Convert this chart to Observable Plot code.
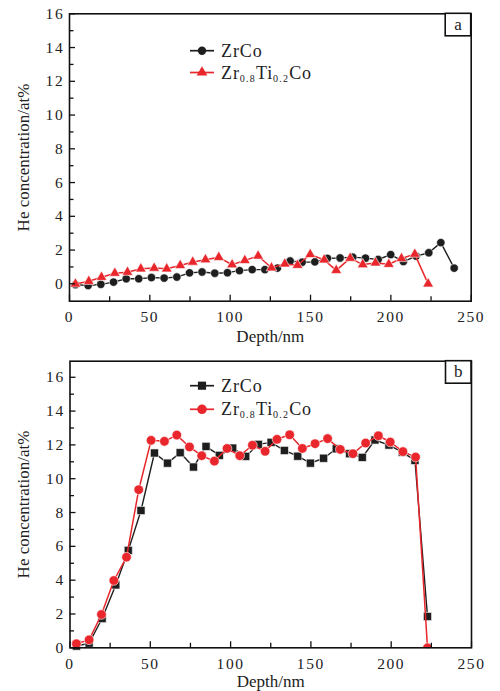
<!DOCTYPE html>
<html>
<head>
<meta charset="utf-8">
<script src="https://cdn.jsdelivr.net/npm/d3@7"></script>
<script src="https://cdn.jsdelivr.net/npm/@observablehq/plot@0.6"></script>
<style>
  html, body { margin: 0; padding: 0; background: #fff; }
  #chart { width: 500px; height: 691px; overflow: hidden; }
  #chart svg { display: block; font-family: "Liberation Serif", serif; }
  #chart svg text { font-family: "Liberation Serif", serif; }
  g[aria-label="x-axis tick label"] text { letter-spacing: 1.6px; }
  g[aria-label="y-axis tick label"] text { letter-spacing: 1.7px; }
  g[aria-label="x-title"] text { letter-spacing: 1.5px; }
  g[aria-label="y-title"] text { letter-spacing: 1.6px; }
</style>
</head>
<body>
<div id="chart"></div>
<script>
// ---------- data ----------
const seriesNames = ["ZrCo", "Zr0.8Ti0.2Co"];
const panelTags = ["a", "b"];
const xTitle = "Depth/nm";
const yTitle = "He concentration/at%";
const xMajor = [0, 50, 100, 150, 200, 250];
const xMinor = [25, 75, 125, 175, 225];
const yMajor = [0, 2, 4, 6, 8, 10, 12, 14, 16];
const yMinor = [1, 3, 5, 7, 9, 11, 13, 15];

// panel a
const aDepthZrCo = [3.7, 11.6, 19.5, 27.4, 35.3, 43.1, 51.0, 58.9, 66.8, 74.7, 82.5, 90.4, 98.3, 105.8, 113.7, 121.6, 129.4, 137.3, 144.8, 152.7, 160.5, 168.4, 176.3, 184.2, 192.1, 199.9, 207.8, 215.7, 223.6, 231.1, 239.4];
const aHeZrCo = [-0.05, -0.1, -0.03, 0.1, 0.3, 0.3, 0.37, 0.34, 0.4, 0.65, 0.7, 0.63, 0.66, 0.78, 0.84, 0.84, 0.93, 1.35, 1.28, 1.3, 1.51, 1.53, 1.58, 1.52, 1.44, 1.73, 1.32, 1.64, 1.84, 2.44, 0.93];
const aDepthZrTi = [3.7, 12.0, 19.9, 28.2, 36.1, 44.4, 52.7, 60.5, 68.9, 76.7, 84.6, 92.9, 101.2, 109.1, 117.4, 125.7, 134.0, 141.9, 149.8, 158.5, 166.0, 174.7, 182.5, 190.4, 198.7, 206.6, 214.9, 223.2];
const aHeZrTi = [-0.01, 0.15, 0.39, 0.63, 0.69, 0.89, 0.93, 0.89, 1.09, 1.29, 1.43, 1.57, 1.13, 1.39, 1.65, 0.95, 1.18, 1.1, 1.74, 1.42, 0.8, 1.52, 1.14, 1.24, 1.16, 1.5, 1.76, 0];

// panel b
const bDepthZrCo = [4.0, 11.9, 20.0, 28.5, 36.3, 44.2, 52.6, 60.7, 68.6, 76.9, 84.7, 93.0, 101.3, 109.4, 117.3, 125.2, 133.5, 141.8, 149.7, 157.9, 165.8, 174.1, 182.0, 189.9, 198.6, 206.9, 214.8, 222.6];
const bHeZrCo = [0.1, 0.27, 1.73, 3.72, 5.76, 8.12, 11.52, 10.92, 11.54, 10.69, 11.91, 11.38, 11.81, 11.32, 12.03, 12.15, 11.67, 11.33, 10.92, 11.21, 11.77, 11.48, 11.26, 12.29, 11.99, 11.57, 11.08, 1.85];
const bDepthZrTi = [4.0, 11.9, 19.6, 27.3, 35.2, 42.8, 50.5, 58.8, 66.5, 74.4, 82.0, 89.9, 97.8, 105.7, 113.6, 121.5, 128.9, 136.8, 144.7, 152.6, 160.4, 168.3, 176.2, 184.1, 192.0, 199.4, 207.3, 215.2, 222.6];
const bHeZrTi = [0.24, 0.47, 1.97, 3.98, 5.36, 9.35, 12.27, 12.21, 12.58, 11.88, 11.36, 11.04, 11.79, 11.36, 11.98, 11.62, 12.33, 12.6, 11.79, 12.07, 12.37, 11.73, 11.48, 12.11, 12.54, 12.17, 11.6, 11.28, 0];

// ---------- drawing ----------
const BLACK = "#1e1e1e";
const RED = "#e8262b";

function rows(xs, ys) { return xs.map((x, i) => ({depth: x, he: ys[i]})); }

function makePanel(cfg) {
  const W = 500;
  const fw = W - cfg.ml - cfg.mr;
  const fh = cfg.height - cfg.mt - cfg.mb;
  const r1 = rows(cfg.x1, cfg.y1);
  const r2 = rows(cfg.x2, cfg.y2);
  const svg = Plot.plot({
    width: W,
    height: cfg.height,
    marginTop: cfg.mt,
    marginBottom: cfg.mb,
    marginLeft: cfg.ml,
    marginRight: cfg.mr,
    x: {domain: [0, 250]},
    y: {domain: cfg.yDomain},
    style: {background: "white", color: "#111", overflow: "visible"},
    marks: [
      Plot.line(r1, {x: "depth", y: "he", stroke: BLACK, strokeWidth: 1.4}),
      Plot.dot(r1, {x: "depth", y: "he", symbol: cfg.sym1, r: cfg.rad1, fill: BLACK, stroke: "white", strokeWidth: 0.6}),
      Plot.line(r2, {x: "depth", y: "he", stroke: RED, strokeWidth: 1.5}),
      Plot.dot(r2, {x: "depth", y: "he", symbol: cfg.sym2, r: cfg.rad2, fill: RED, stroke: "white", strokeWidth: 0.6, clip: true}),
      Plot.frame({stroke: "#111", strokeWidth: 1.6}),
      Plot.tickX(xMajor, {x: d => d, insetTop: fh - 6, stroke: "#111", strokeWidth: 1.3}),
      Plot.tickX(xMinor, {x: d => d, insetTop: fh - 4.5, stroke: "#111", strokeWidth: 1.3}),
      Plot.tickY(yMajor, {y: d => d, insetRight: fw - 6, stroke: "#111", strokeWidth: 1.3}),
      Plot.tickY(yMinor, {y: d => d, insetRight: fw - 4.5, stroke: "#111", strokeWidth: 1.3}),
      Plot.axisX(xMajor, {tickSize: 0, tickPadding: 10, fontSize: 15.5, label: null, fill: "#222"}),
      Plot.axisY(yMajor, {tickSize: 0, tickPadding: 5, fontSize: 15.5, label: null, fill: "#222"}),
      Plot.text([xTitle], {text: d => d, frameAnchor: "bottom", lineAnchor: "middle", textAnchor: "middle", dy: cfg.xTitleDy, fontSize: 17, fill: "#222", ariaLabel: "x-title"}),
      Plot.text([yTitle], {text: d => d, frameAnchor: "left", lineAnchor: "middle", textAnchor: "middle", dx: -46, rotate: -90, fontSize: 17, fill: "#222", ariaLabel: "y-title"})
    ]
  });

  const s = d3.select(svg);
  // legend
  const lg = s.append("g").attr("fill", "#222").attr("text-anchor", "start");
  const items = [
    {color: BLACK, sym: cfg.sym1, rad: cfg.rad1, y: cfg.legY[0], name: seriesNames[0]},
    {color: RED, sym: cfg.sym2, rad: cfg.rad2, y: cfg.legY[1], name: seriesNames[1]}
  ];
  const symMap = {circle: d3.symbolCircle, triangle: d3.symbolTriangle, square: d3.symbolSquare};
  items.forEach(it => {
    lg.append("line").attr("x1", 190).attr("x2", 214).attr("y1", it.y).attr("y2", it.y)
      .attr("stroke", it.color).attr("stroke-width", 1.7);
    lg.append("path").attr("d", d3.symbol(symMap[it.sym], Math.PI * it.rad * it.rad)())
      .attr("transform", `translate(202,${it.y})`).attr("fill", it.color);
    const t = lg.append("text").attr("x", 221).attr("y", it.y + 6)
      .attr("text-anchor", "start")
      .attr("font-size", 18).attr("letter-spacing", "0.9px");
    if (it.name === "ZrCo") {
      t.text("ZrCo");
    } else {
      t.append("tspan").text("Zr");
      t.append("tspan").text("0.8").attr("font-size", 10).attr("dy", 3).attr("letter-spacing", "1.2px");
      t.append("tspan").text("Ti").attr("dy", -3);
      t.append("tspan").text("0.2").attr("font-size", 10).attr("dy", 3).attr("letter-spacing", "1.2px");
      t.append("tspan").text("Co").attr("dy", -3);
    }
  });
  // panel tag box
  const bx = W - cfg.mr - 25.5, by = cfg.mt, bw = 25.5, bh = 22.5;
  s.append("rect").attr("x", bx).attr("y", by).attr("width", bw).attr("height", bh)
    .attr("fill", "white").attr("stroke", "#111").attr("stroke-width", 1.6);
  s.append("text").attr("x", bx + bw / 2).attr("y", by + bh / 2 + 5).attr("text-anchor", "middle")
    .attr("font-size", 17).attr("fill", "#222").text(cfg.tag);
  return svg;
}

const chart = document.getElementById("chart");
chart.appendChild(makePanel({
  tag: panelTags[0], height: 345, mt: 13.3, mb: 44.3, ml: 69, mr: 29.3,
  yDomain: [-1.03, 16], x1: aDepthZrCo, y1: aHeZrCo, x2: aDepthZrTi, y2: aHeZrTi,
  sym1: "circle", rad1: 4.2, sym2: "triangle", rad2: 4.0, legY: [50.7, 72.5], xTitleDy: 35
}));
chart.appendChild(makePanel({
  tag: panelTags[1], height: 346, mt: 15.7, mb: 43.7, ml: 69.5, mr: 29,
  yDomain: [0, 16.95], x1: bDepthZrCo, y1: bHeZrCo, x2: bDepthZrTi, y2: bHeZrTi,
  sym1: "square", rad1: 4.6, sym2: "circle", rad2: 4.8, legY: [40.7, 64.3], xTitleDy: 33.5
}));
</script>
</body>
</html>
